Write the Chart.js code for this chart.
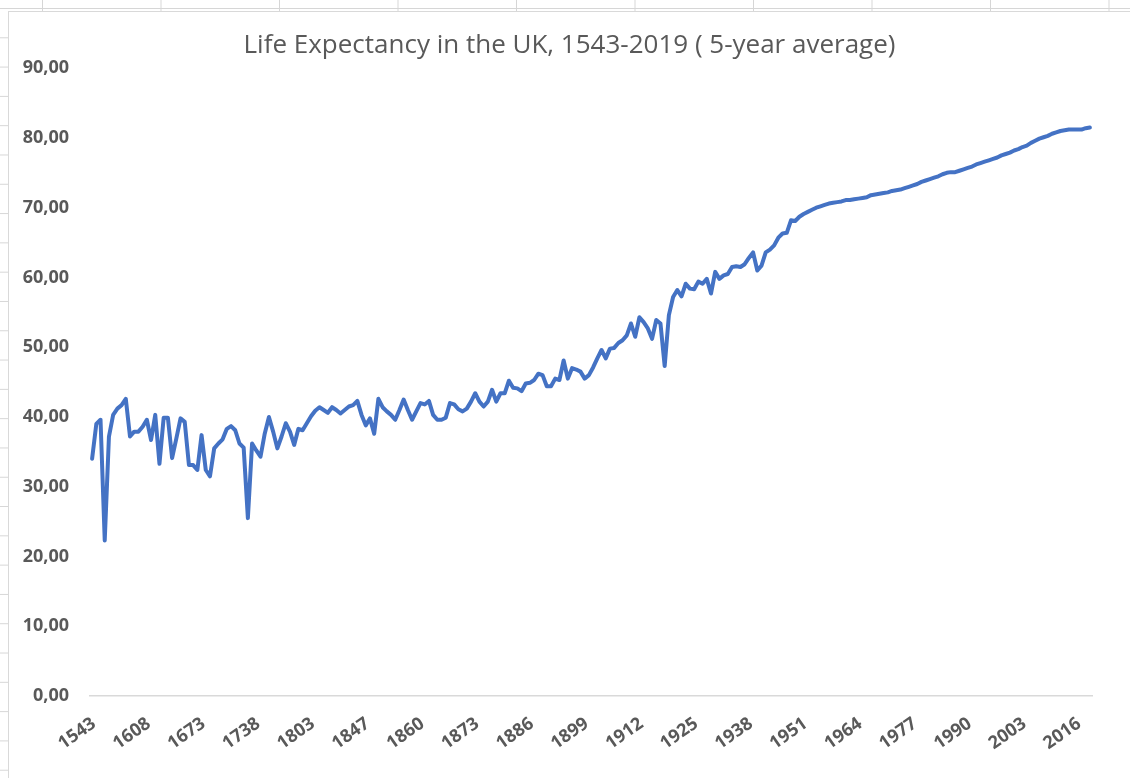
<!DOCTYPE html>
<html>
<head>
<meta charset="utf-8">
<title>Life Expectancy in the UK</title>
<script src="https://cdn.jsdelivr.net/npm/chart.js@4.4.1/dist/chart.umd.min.js"></script>
<style>
  html, body { margin: 0; width: 1130px; height: 778px; overflow: hidden; }
  /* spreadsheet grid peeking out round the chart object */
  body {
    background-color: #fff;
    background-image:
      linear-gradient(to right, #d6d6d6 1px, transparent 1px),
      linear-gradient(to bottom, #d6d6d6 1px, transparent 1px);
    background-size: 118.5px 29.3px;
    background-position: 42px 8px;
  }
  #frame {
    position: absolute; left: 8px; top: 11px;
    width: 1140px; height: 790px;
    background: #fff; border: 1px solid #d9d9d9;
  }
  #chart { position: absolute; left: 0; top: 0; }
</style>
</head>
<body>
<div id="frame"><canvas id="chart" width="1121" height="766"></canvas></div>

<script>
/* ---- DATA ---- */
// 5-year steps up to 1838, yearly afterwards
const fiveYearSteps = [
  1543, 1548, 1553, 1558, 1563, 1568, 1573, 1578, 1583, 1588,
  1593, 1598, 1603, 1608, 1613, 1618, 1623, 1628, 1633, 1638,
  1643, 1648, 1653, 1658, 1663, 1668, 1673, 1678, 1683, 1688,
  1693, 1698, 1703, 1708, 1713, 1718, 1723, 1728, 1733, 1738,
  1743, 1748, 1753, 1758, 1763, 1768, 1773, 1778, 1783, 1788,
  1793, 1798, 1803, 1808, 1813, 1818, 1823, 1828, 1833, 1838
];
const yearlySteps = [];
for (let y = 1842; y <= 2019; y++) yearlySteps.push(y);
const years = fiveYearSteps.concat(yearlySteps);

const lifeExpectancy = [
  34.0, 39.0, 39.6, 22.3, 37.2, 40.3, 41.2, 41.7, 42.6, 37.2,
  37.9, 37.9, 38.6, 39.6, 36.7, 40.3, 33.3, 39.9, 39.9, 34.1,
  36.9, 39.8, 39.3, 33.1, 33.1, 32.4, 37.4, 32.4, 31.5, 35.5,
  36.2, 36.8, 38.3, 38.7, 38.1, 36.2, 35.6, 25.5, 36.2, 35.2,
  34.3, 37.6, 40.0, 37.9, 35.5, 37.2, 39.1, 37.9, 36.0, 38.3,
  38.1, 39.1, 40.1, 40.9, 41.4, 41.0, 40.6, 41.4, 41.0, 40.5,
  41.0, 41.5, 41.7, 42.3, 40.3, 38.8, 39.8, 37.6, 42.6, 41.4,
  40.8, 40.3, 39.6, 41.0, 42.5, 41.0, 39.6, 40.8, 42.0, 41.8,
  42.3, 40.3, 39.6, 39.6, 39.9, 42.0, 41.8, 41.1, 40.8, 41.2,
  42.2, 43.4, 42.2, 41.5, 42.2, 43.9, 42.2, 43.4, 43.4, 45.2,
  44.2, 44.1, 43.7, 44.8, 44.9, 45.3, 46.2, 46.0, 44.4, 44.4,
  45.5, 45.3, 48.1, 45.5, 47.0, 46.8, 46.5, 45.5, 46.0, 47.1,
  48.4, 49.6, 48.4, 49.8, 49.9, 50.6, 51.0, 51.7, 53.4, 51.5,
  54.3, 53.6, 52.7, 51.2, 53.9, 53.4, 47.3, 54.6, 57.2, 58.2,
  57.3, 59.1, 58.4, 58.3, 59.4, 59.1, 59.8, 57.7, 60.8, 59.8,
  60.3, 60.5, 61.5, 61.6, 61.5, 61.9, 62.8, 63.6, 61.0, 61.7,
  63.6, 64.0, 64.6, 65.7, 66.3, 66.4, 68.2, 68.1, 68.7, 69.1,
  69.4, 69.7, 70.0, 70.2, 70.4, 70.6, 70.7, 70.8, 70.9, 71.1,
  71.1, 71.2, 71.3, 71.4, 71.5, 71.8, 71.9, 72.0, 72.1, 72.2,
  72.4, 72.5, 72.6, 72.8, 73.0, 73.2, 73.4, 73.7, 73.9, 74.1,
  74.3, 74.5, 74.8, 75.0, 75.1, 75.1, 75.3, 75.5, 75.7, 75.9,
  76.2, 76.4, 76.6, 76.8, 77.0, 77.2, 77.5, 77.7, 77.9, 78.2,
  78.4, 78.7, 78.9, 79.3, 79.6, 79.9, 80.1, 80.3, 80.6, 80.8,
  81.0, 81.1, 81.2, 81.2, 81.2, 81.2, 81.4, 81.5
];

const yMin = 0, yMax = 90, yStep = 10;
const labelEvery = 13;   // excel shows every 13th category

/* ---- CHART ---- */
Chart.defaults.font.family = "'Open Sans', 'Liberation Sans', sans-serif";
Chart.defaults.color = '#595959';

// centre the title on the whole chart object, like Excel does
const centreTitle = {
  id: 'centreTitle',
  afterLayout(chart) {
    if (chart.titleBlock) chart.titleBlock.left = chart.width - chart.chartArea.right;
  }
};

new Chart(document.getElementById('chart'), {
  type: 'line',
  data: {
    labels: years,
    datasets: [{
      label: 'Life expectancy',
      data: lifeExpectancy,
      borderColor: '#4472C4',
      borderWidth: 4,
      borderJoinStyle: 'round',
      borderCapStyle: 'round',
      pointRadius: 0,
      tension: 0,
      fill: false
    }]
  },
  options: {
    responsive: false,
    animation: false,
    devicePixelRatio: 1,
    layout: { padding: { left: 0, right: 38, top: 0, bottom: 0 } },
    plugins: {
      legend: { display: false },
      tooltip: { enabled: false },
      title: {
        display: true,
        text: 'Life Expectancy in the UK, 1543-2019 ( 5-year average)',
        color: '#595959',
        font: { size: 26, weight: 'normal' },
        padding: { top: 18, bottom: 7 }
      }
    },
    scales: {
      x: {
        offset: true,
        grid: { display: false, drawTicks: false },
        border: { display: true, color: '#d9d9d9', width: 1.5 },
        ticks: {
          autoSkip: false,
          minRotation: 35,
          maxRotation: 35,
          padding: 17,
          labelOffset: 2,
          color: '#595959',
          font: { size: 18, weight: 'bold' },
          callback: (v, i) => (i % labelEvery === 0 ? years[i] : null)
        },
        afterFit: s => { s.height = 82; }
      },
      y: {
        min: yMin,
        max: yMax,
        grid: { display: false, drawTicks: false },
        border: { display: false },
        ticks: {
          stepSize: yStep,
          padding: 21,
          color: '#595959',
          font: { size: 18, weight: 'bold' },
          callback: v => v.toFixed(2).replace('.', ',')
        },
        afterFit: s => { s.width = 81; }
      }
    }
  },
  plugins: [centreTitle]
});
</script>
</body>
</html>
